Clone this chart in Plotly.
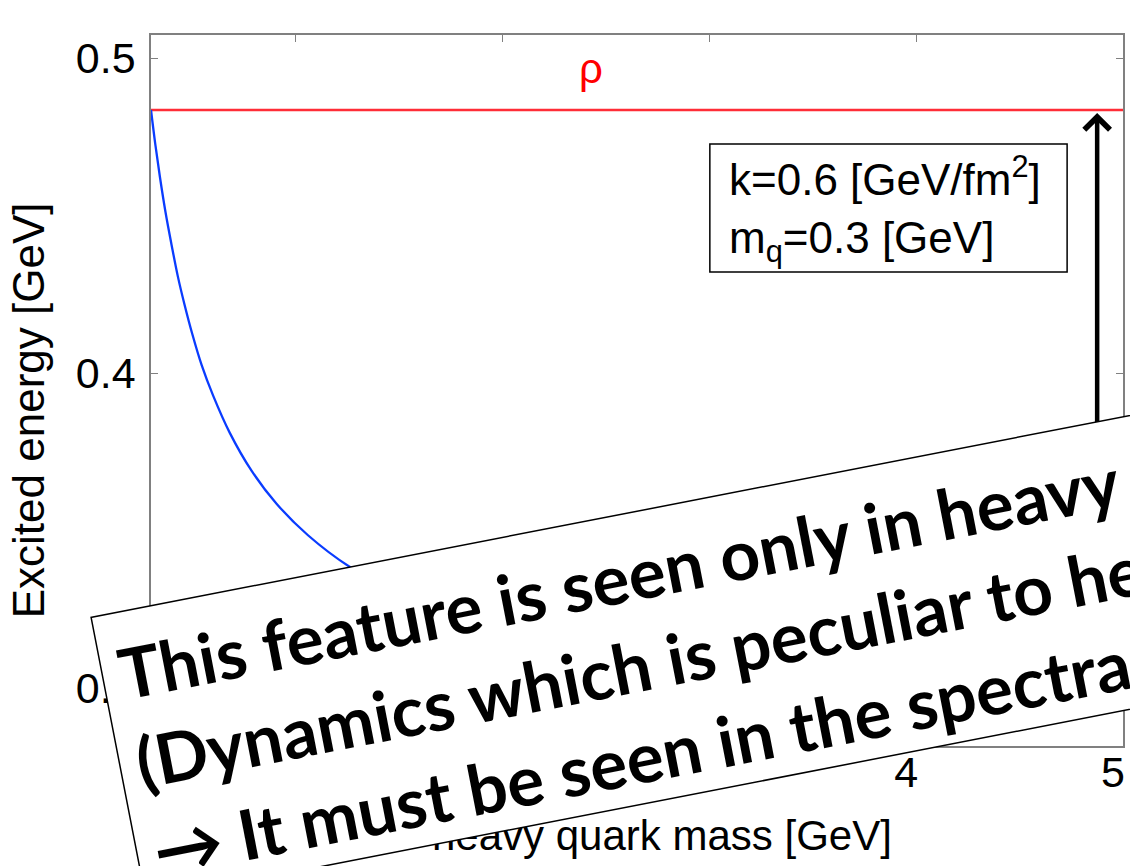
import math
import plotly.graph_objects as go

# Excited energy of the heavy-light system vs. heavy quark mass (GeV)
heavy_mass = [0.30, 0.32, 0.343, 0.37, 0.40, 0.43, 0.461, 0.50, 0.545, 0.60, 0.681, 0.786, 0.907,
              1.059, 1.26, 1.5, 2.0, 2.5, 3.0, 3.5, 4.0, 4.5, 5.0]
excited_energy = [0.4835, 0.4730, 0.4623, 0.4511, 0.4405, 0.4306, 0.4220, 0.4123, 0.4025, 0.3929,
                  0.3810, 0.3690, 0.3585, 0.3485, 0.3385, 0.3300, 0.3190, 0.3120, 0.3075, 0.3045,
                  0.3020, 0.3000, 0.2985]

# rho-meson level (light-light limit)
rho_energy = 0.4835
rho_label = "ρ"

# vertical arrow from the curve up to the rho level
arrow_mass = 4.875
arrow_from = 0.2990

x_ticks = [1, 2, 3, 4, 5]
y_ticks = [0.3, 0.4, 0.5]
y_tick_text = ["0.3", "0.4", "0.5"]
x_range = [0.3, 5.0]
y_range = [0.2816, 0.5073]

param_text = "k=0.6 [GeV/fm<sup>2</sup>]<br>m<sub>q</sub>=0.3 [GeV]"
note_lines = [
    "This feature is seen only in heavy",
    "(Dynamics which is peculiar to heavy",
    "→ It must be seen in the spectra",
]

# page geometry (pixels)
W, H = 1130, 866
M_L, M_R, M_T, M_B = 151, 5, 35, 120
PW = W - M_L - M_R
PH = H - M_T - M_B


def paper_x(p):
    return (p - M_L) / PW


def paper_y(p):
    return (H - M_B - p) / PH


AX_FONT = "Liberation Sans, Arial, Helvetica, sans-serif"
FRAME = "#808080"

fig = go.Figure()

fig.add_trace(go.Scatter(
    x=[x_range[0], x_range[1]], y=[rho_energy, rho_energy],
    mode="lines", line=dict(color="#ff2d37", width=2.5), hoverinfo="skip",
))
fig.add_trace(go.Scatter(
    x=heavy_mass, y=excited_energy, mode="lines",
    line=dict(color="#0a3cff", width=2.3, shape="spline", smoothing=1.0),
    hoverinfo="skip",
))

axis_common = dict(
    showline=True, linecolor=FRAME, linewidth=1.5, mirror="ticks",
    ticks="inside", ticklen=7, tickwidth=1, tickcolor=FRAME,
    showgrid=False, zeroline=False, ticklabeloverflow="allow",
    tickfont=dict(family=AX_FONT, size=43, color="black"),
)
fig.update_xaxes(range=x_range, tickvals=x_ticks, ticktext=[str(t) for t in x_ticks],
                 ticklabelstandoff=-12, ticklabelshift=-10, **axis_common)
fig.update_yaxes(range=y_range, tickvals=y_ticks, ticktext=y_tick_text,
                 ticklabelstandoff=5, **axis_common)

# parameter box
fig.add_shape(type="rect", xref="paper", yref="paper",
              x0=paper_x(711), x1=paper_x(1069), y0=paper_y(272), y1=paper_y(144),
              line=dict(color="black", width=1.5), fillcolor="rgba(0,0,0,0)")

annotations = [
    dict(text="Excited energy [GeV]", xref="paper", yref="paper",
         x=paper_x(28), y=paper_y(410), xanchor="center", yanchor="middle",
         textangle=-90, showarrow=False,
         font=dict(family=AX_FONT, size=44, color="black")),
    dict(text="heavy quark mass [GeV]", xref="paper", yref="paper",
         x=paper_x(663), y=paper_y(835), xanchor="center", yanchor="middle",
         showarrow=False, font=dict(family=AX_FONT, size=42, color="black")),
    dict(text=rho_label, xref="paper", yref="paper",
         x=paper_x(592), y=paper_y(68), xanchor="center", yanchor="middle",
         showarrow=False, font=dict(family=AX_FONT, size=42, color="#ff0000")),
    dict(text=param_text, xref="paper", yref="paper",
         x=paper_x(728), y=paper_y(209), xanchor="left", yanchor="middle",
         align="left", showarrow=False,
         font=dict(family=AX_FONT, size=44, color="black")),
    dict(text="", x=arrow_mass, y=rho_energy, xref="x", yref="y",
         ax=arrow_mass, ay=arrow_from, axref="x", ayref="y",
         showarrow=True, arrowhead=4, arrowsize=1.1, arrowwidth=4.5,
         arrowcolor="black", standoff=3),
]

# tilted note laid over the lower part of the chart: a white card, then its text
corner = (92, 617)
ang_deg = 11
ang = math.radians(ang_deg)
bw = 1.5
card_w, card_h = 1300, 290
ux, uy = math.cos(ang), -math.sin(ang)
nx, ny = math.sin(ang), math.cos(ang)


def along(a, b):
    return corner[0] + a * ux + b * nx, corner[1] + a * uy + b * ny


cx, cy = along(card_w / 2, card_h / 2)
annotations.append(dict(
    text="\u00a0", xref="paper", yref="paper",
    x=paper_x(cx), y=paper_y(cy), xanchor="center", yanchor="middle",
    textangle=-ang_deg, showarrow=False,
    width=card_w - 2 * bw, height=card_h - 2 * bw,
    bgcolor="white", bordercolor="black", borderwidth=bw, borderpad=0,
    font=dict(size=10),
))

text_w, text_h = 1250, 330
tx, ty = along(17 + text_w / 2, card_h / 2 + 6)
annotations.append(dict(
    text="<br>".join(note_lines), xref="paper", yref="paper",
    x=paper_x(tx), y=paper_y(ty), xanchor="center", yanchor="middle",
    textangle=-ang_deg, showarrow=False, align="left", valign="middle",
    width=text_w, height=text_h, borderpad=0,
    font=dict(family="Lato, Open Sans, sans-serif", size=69.5, color="black", weight="bold"),
))

fig.update_layout(
    width=W, height=H, autosize=False,
    margin=dict(l=M_L, r=M_R, t=M_T, b=M_B),
    paper_bgcolor="white", plot_bgcolor="white",
    showlegend=False,
    annotations=annotations,
)

fig.write_html("out.html", config={"displayModeBar": False})
